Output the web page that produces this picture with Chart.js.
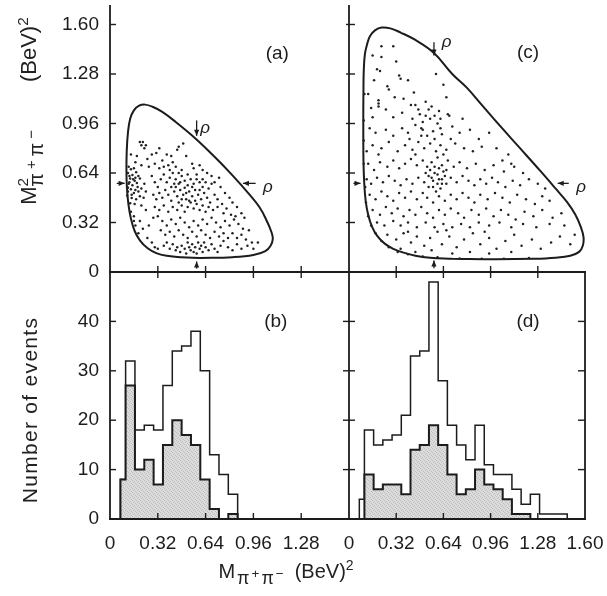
<!DOCTYPE html>
<html><head><meta charset="utf-8">
<script src="https://cdn.jsdelivr.net/npm/chart.js@4.4.1/dist/chart.umd.min.js"></script>
<style>
html,body{margin:0;padding:0;background:#fff;}
#wrap{position:relative;width:607px;height:596px;overflow:hidden;}
#c{position:absolute;left:0;top:0;}
.t{position:absolute;color:#222;white-space:nowrap;line-height:1;font-family:'Liberation Sans',Arial,sans-serif;}
.rot{transform:translate(-50%,-50%) rotate(-90deg);}
.ctr{transform:translate(-50%,-50%);}
.sp{position:relative;top:-0.55em;font-size:0.7em;}
.sb{position:relative;top:0.35em;font-size:0.9em;letter-spacing:2px;}
.sp2{position:relative;top:-0.45em;font-size:0.75em;}
</style></head><body>
<div id="wrap">
<canvas id="c" width="607" height="596"></canvas>
<div class="t rot" id="tyTop" style="left:29px;top:111px;font-size:22px;">M<span class="sp">2</span><span class="sb" style="margin-left:-0.45em;letter-spacing:4px">π<span class="sp2">+</span>π<span class="sp2">−</span></span><span style="display:inline-block;width:44px"></span>(BeV)<span class="sp">2</span></div>
<div class="t rot" id="tyBot" style="left:29px;top:410px;font-size:21px;letter-spacing:1.3px;">Number of events</div>
<div class="t ctr" id="tx" style="left:286px;top:571px;font-size:20px;">M<span class="sb" style="margin-left:2px">π<span class="sp2">+</span>π<span class="sp2">−</span></span><span style="display:inline-block;width:9px"></span>(BeV)<span class="sp">2</span></div>
</div>
<script>
// ---------------- data ----------------
const xTicksLeft = [0, 0.32, 0.64, 0.96, 1.28];
const xTicksRight = [0, 0.32, 0.64, 0.96, 1.28, 1.60];
const yTicksTop = [0, 0.32, 0.64, 0.96, 1.28, 1.60];
const yTicksBottom = [0, 10, 20, 30, 40];

// histogram bin edges, M^2 (BeV)^2
const binEdges = [0.07, 0.1045, 0.167, 0.2295, 0.292, 0.3545, 0.417, 0.4795, 0.542, 0.6045, 0.667, 0.7295, 0.792, 0.8545, 0.917, 0.9795, 1.042, 1.1045, 1.167, 1.2295, 1.292, 1.3545, 1.417, 1.4795];
// panel (b)
const histBAll    = [8, 32, 18, 19, 18, 27, 34, 35, 38, 30, 13, 9, 5, 0, 0, 0, 0, 0, 0, 0, 0, 0, 0];
const histBShaded = [8, 27, 10, 12, 7, 15, 20, 17, 15, 8, 2, 0, 1, 0, 0, 0, 0, 0, 0, 0, 0, 0, 0];
// panel (d)
const histDAll    = [4, 18, 15, 16, 17, 21, 33, 34, 48, 28, 19, 15, 12, 19, 11, 9, 9, 6, 3, 5, 1, 1, 1];
const histDShaded = [0, 9, 6, 7, 7, 5, 14, 15, 19, 15, 9, 5, 6, 10, 7, 6, 4, 1, 1, 0, 0, 0, 0];

// Dalitz boundary (a)
const boundaryA = [[0.60,0.09],[0.48,0.095],[0.38,0.105],[0.31,0.122],[0.25,0.155],[0.20,0.205],[0.165,0.265],[0.14,0.345],[0.123,0.44],[0.113,0.55],[0.11,0.66],[0.112,0.78],[0.12,0.90],[0.135,0.99],[0.16,1.045],[0.195,1.075],[0.235,1.082],[0.285,1.068],[0.35,1.035],[0.44,0.97],[0.57,0.865],[0.70,0.745],[0.82,0.625],[0.93,0.505],[1.00,0.42],[1.05,0.33],[1.08,0.26],[1.09,0.215],[1.075,0.17],[1.04,0.135],[0.96,0.11],[0.82,0.096],[0.60,0.09]];
// Dalitz boundary (c)
const boundaryC = [[0.70,0.085],[0.55,0.092],[0.45,0.105],[0.37,0.125],[0.30,0.15],[0.24,0.185],[0.19,0.235],[0.155,0.295],[0.13,0.37],[0.113,0.46],[0.103,0.58],[0.098,0.72],[0.097,0.88],[0.097,1.04],[0.098,1.18],[0.10,1.30],[0.108,1.41],[0.125,1.48],[0.142,1.524],[0.176,1.562],[0.222,1.58],[0.28,1.575],[0.35,1.548],[0.45,1.50],[0.576,1.416],[0.70,1.28],[0.80,1.19],[0.90,1.08],[1.00,0.97],[1.15,0.81],[1.30,0.65],[1.40,0.54],[1.48,0.45],[1.535,0.37],[1.572,0.29],[1.59,0.225],[1.585,0.17],[1.56,0.13],[1.50,0.105],[1.40,0.092],[1.25,0.085],[1.00,0.082],[0.70,0.085]];

// events, panel (a)
const scatterA = [
[0.20,0.84],[0.22,0.84],[0.21,0.82],[0.24,0.82],[0.23,0.80],
[0.33,0.80],[0.46,0.81],[0.49,0.83],[0.45,0.79],[0.31,0.77],[0.38,0.76],[0.41,0.75],[0.28,0.76],[0.14,0.76],[0.18,0.75],[0.25,0.73],[0.51,0.75],[0.35,0.72],[0.30,0.70],[0.42,0.71],[0.21,0.69],[0.26,0.68],[0.17,0.71],[0.39,0.69],[0.44,0.68],[0.55,0.70],[0.33,0.67],[0.48,0.66],[0.58,0.63],[0.62,0.66],
[0.125,0.68],[0.14,0.665],[0.16,0.67],[0.12,0.64],[0.15,0.627],[0.175,0.645],[0.19,0.62],[0.135,0.605],[0.165,0.59],[0.20,0.605],[0.125,0.57],[0.15,0.56],[0.18,0.575],[0.14,0.535],[0.17,0.53],[0.12,0.52],[0.16,0.51],[0.19,0.52],[0.115,0.495],[0.145,0.478],[0.175,0.47],[0.135,0.445],[0.165,0.44],[0.21,0.54],[0.23,0.57],[0.24,0.52],[0.225,0.48],[0.13,0.58],[0.155,0.60],[0.185,0.55],[0.12,0.545],[0.20,0.49],[0.145,0.50],[0.17,0.61],[0.13,0.62],[0.115,0.55],
[0.14,0.39],[0.16,0.36],[0.16,0.33],[0.17,0.30],[0.20,0.33],[0.22,0.28],[0.19,0.25],[0.25,0.22],[0.28,0.19],[0.30,0.16],[0.32,0.15],[0.26,0.30],[0.29,0.35],[0.24,0.40],[0.21,0.43],
[0.28,0.62],[0.30,0.58],[0.32,0.55],[0.34,0.60],[0.36,0.63],[0.38,0.58],[0.40,0.61],[0.42,0.64],[0.44,0.60],[0.46,0.57],[0.48,0.62],[0.50,0.59],[0.52,0.63],[0.54,0.60],[0.56,0.57],[0.58,0.60],[0.60,0.58],[0.62,0.55],[0.64,0.58],[0.66,0.54],[0.68,0.57],
[0.29,0.50],[0.31,0.47],[0.33,0.51],[0.35,0.48],[0.37,0.53],[0.39,0.50],[0.41,0.46],[0.43,0.52],[0.45,0.49],[0.47,0.53],[0.49,0.50],[0.51,0.47],[0.53,0.52],[0.55,0.49],[0.57,0.53],[0.59,0.50],[0.61,0.47],[0.63,0.51],[0.65,0.48],[0.67,0.45],[0.70,0.50],[0.72,0.47],
[0.30,0.42],[0.33,0.40],[0.36,0.43],[0.39,0.39],[0.42,0.42],[0.45,0.40],[0.48,0.43],[0.50,0.39],[0.52,0.42],[0.54,0.45],[0.56,0.41],[0.58,0.44],[0.60,0.40],[0.62,0.43],[0.64,0.39],[0.66,0.42],[0.69,0.40],[0.72,0.42],[0.75,0.44],[0.78,0.41],
[0.44,0.55],[0.46,0.45],[0.50,0.545],[0.52,0.56],[0.48,0.47],[0.55,0.55],[0.53,0.46],[0.57,0.46],[0.51,0.51],[0.47,0.58],[0.43,0.57],[0.41,0.55],[0.60,0.53],[0.62,0.60],[0.40,0.66],[0.36,0.68],[0.46,0.64],
[0.32,0.36],[0.35,0.33],[0.38,0.30],[0.41,0.34],[0.44,0.31],[0.47,0.35],[0.50,0.32],[0.53,0.29],[0.56,0.33],[0.59,0.30],[0.62,0.34],[0.65,0.31],[0.68,0.35],[0.71,0.32],[0.74,0.29],[0.77,0.33],[0.80,0.30],[0.83,0.34],[0.86,0.31],[0.89,0.28],
[0.34,0.27],[0.37,0.24],[0.40,0.26],[0.43,0.23],[0.46,0.27],[0.49,0.24],[0.52,0.22],[0.55,0.26],[0.58,0.23],[0.61,0.27],[0.64,0.24],[0.67,0.22],[0.70,0.26],[0.73,0.23],[0.76,0.25],[0.79,0.22],[0.82,0.25],[0.85,0.22],[0.88,0.24],[0.91,0.21],[0.93,0.27],[0.95,0.19],
[0.70,0.58],[0.74,0.55],[0.77,0.51],[0.80,0.48],[0.73,0.61],[0.82,0.45],[0.85,0.42],[0.88,0.38],[0.90,0.35],[0.76,0.38],[0.81,0.37],[0.84,0.36],
[0.36,0.17],[0.38,0.19],[0.40,0.15],[0.42,0.18],[0.44,0.14],[0.45,0.16],[0.47,0.13],[0.48,0.17],[0.50,0.15],[0.51,0.12],[0.52,0.19],[0.53,0.16],[0.54,0.14],[0.55,0.18],[0.56,0.13],[0.57,0.16],[0.58,0.12],[0.59,0.19],[0.60,0.15],[0.61,0.17],[0.62,0.13],[0.63,0.19],[0.64,0.16],[0.66,0.14],[0.68,0.18],[0.70,0.15],[0.72,0.13],[0.74,0.17],[0.76,0.20],[0.79,0.16],[0.82,0.14],[0.85,0.18],[0.88,0.15],[0.92,0.17],[0.96,0.15],[0.99,0.19],
[0.56,0.67],[0.60,0.69],[0.65,0.64],[0.68,0.62]
];

// events, panel (c)
const scatterC = [
[0.10,0.70],[0.10,0.85],[0.10,0.98],[0.105,1.15],[0.11,0.55],[0.115,0.45],[0.13,0.36],[0.15,0.30],[0.18,0.25],[0.22,0.20],[0.27,0.16],[0.33,0.13],[0.40,0.115],[0.50,0.10],[0.60,0.095],[0.75,0.088],[0.90,0.085],[1.05,0.085],[1.22,0.09],
[0.22,1.46],[0.30,1.46],[0.16,1.40],[0.32,1.36],[0.22,1.39],[0.19,1.31],[0.21,1.30],[0.17,1.24],[0.34,1.27],[0.35,1.25],[0.40,1.24],[0.59,1.28],[0.64,1.21],[0.20,1.11],[0.20,1.09],[0.20,1.07],[0.27,1.18],[0.31,1.13],[0.66,1.13],[0.15,1.06],[0.16,1.00],[0.42,1.08],[0.45,1.08],[0.52,1.10],[0.54,1.05],[0.48,1.02],[0.52,1.01],[0.55,0.99],[0.58,1.01],[0.60,0.96],[0.62,0.93],[0.67,1.02],[0.68,1.01],[0.77,0.99],[0.26,1.20],[0.13,1.15],[0.44,1.16],[0.37,1.12],
[0.47,1.05],[0.50,0.97],[0.56,1.07],[0.61,1.04],[0.49,0.93],[0.43,0.99],[0.62,0.99],[0.36,1.03],[0.30,1.00],[0.25,1.05],
[0.14,0.93],[0.18,0.90],[0.25,0.92],[0.30,0.88],[0.36,0.93],[0.40,0.90],[0.45,0.95],[0.50,0.92],[0.53,0.88],[0.57,0.91],[0.63,0.89],[0.70,0.94],[0.75,0.90],[0.82,0.92],[0.88,0.86],[0.95,0.90],[0.16,0.82],[0.22,0.80],[0.27,0.84],[0.33,0.78],[0.38,0.82],[0.43,0.79],[0.47,0.84],[0.51,0.80],[0.55,0.83],[0.59,0.78],[0.62,0.82],[0.66,0.79],[0.72,0.83],[0.78,0.80],[0.84,0.78],[0.90,0.81],[1.00,0.80],[1.08,0.76],[0.12,0.78],[0.20,0.76],[0.45,0.76],[0.58,0.86],[0.49,0.88],[0.41,0.86],[0.64,0.76],[0.69,0.86],
[0.13,0.70],[0.17,0.66],[0.21,0.71],[0.26,0.68],[0.30,0.72],[0.34,0.67],[0.38,0.70],[0.42,0.73],[0.46,0.69],[0.50,0.72],[0.53,0.68],[0.56,0.71],[0.60,0.74],[0.63,0.69],[0.67,0.72],[0.71,0.68],[0.75,0.71],[0.80,0.67],[0.86,0.70],[0.92,0.66],[0.98,0.69],[1.05,0.65],[1.12,0.68],[1.18,0.64],[1.04,0.72],[1.10,0.70],
[0.12,0.60],[0.15,0.57],[0.19,0.61],[0.23,0.58],[0.27,0.62],[0.31,0.59],[0.35,0.56],[0.39,0.60],[0.43,0.57],[0.47,0.61],[0.51,0.58],[0.54,0.62],[0.57,0.59],[0.60,0.63],[0.63,0.60],[0.66,0.57],[0.69,0.61],[0.73,0.58],[0.77,0.62],[0.81,0.59],[0.85,0.56],[0.89,0.60],[0.93,0.57],[0.97,0.61],[1.01,0.58],[1.06,0.55],[1.11,0.59],[1.16,0.56],[1.22,0.60],[1.28,0.57],[1.33,0.54],
[0.55,0.66],[0.58,0.64],[0.61,0.67],[0.64,0.65],[0.57,0.55],[0.60,0.57],[0.62,0.54],[0.59,0.52],[0.65,0.62],[0.52,0.64],[0.56,0.61],[0.61,0.60],[0.63,0.57],[0.58,0.68],[0.66,0.66],[0.54,0.55],
[0.14,0.50],[0.18,0.47],[0.22,0.52],[0.26,0.49],[0.30,0.46],[0.34,0.51],[0.38,0.48],[0.42,0.52],[0.46,0.47],[0.50,0.51],[0.53,0.48],[0.57,0.45],[0.61,0.49],[0.65,0.46],[0.69,0.50],[0.73,0.47],[0.77,0.51],[0.81,0.48],[0.85,0.45],[0.89,0.50],[0.94,0.47],[0.99,0.51],[1.04,0.48],[1.09,0.45],[1.14,0.50],[1.20,0.47],[1.26,0.44],[1.31,0.49],[1.36,0.46],
[0.16,0.40],[0.21,0.37],[0.25,0.42],[0.29,0.38],[0.33,0.41],[0.37,0.36],[0.41,0.40],[0.45,0.37],[0.49,0.42],[0.53,0.38],[0.57,0.35],[0.61,0.40],[0.65,0.37],[0.69,0.41],[0.74,0.38],[0.78,0.35],[0.83,0.40],[0.88,0.37],[0.93,0.41],[0.98,0.36],[1.03,0.40],[1.08,0.37],[1.13,0.34],[1.19,0.39],[1.25,0.36],[1.31,0.40],[1.38,0.35],[1.44,0.38],
[0.19,0.32],[0.24,0.30],[0.30,0.33],[0.35,0.30],[0.40,0.32],[0.46,0.29],[0.52,0.32],[0.58,0.29],[0.64,0.31],[0.70,0.29],[0.76,0.31],[0.82,0.29],[0.88,0.32],[0.95,0.30],[1.02,0.32],[1.10,0.29],[1.18,0.31],[1.27,0.29],[1.36,0.31],[1.46,0.30],
[0.26,0.24],[0.32,0.21],[0.37,0.25],[0.42,0.19],[0.46,0.23],[0.51,0.17],[0.55,0.22],[0.60,0.26],[0.63,0.18],[0.68,0.23],[0.73,0.16],[0.78,0.21],[0.84,0.25],[0.89,0.18],[0.95,0.22],[1.00,0.15],[1.06,0.20],[1.12,0.24],[1.17,0.17],[1.24,0.21],[1.30,0.15],[1.37,0.19],[1.43,0.23],[1.50,0.18],[1.53,0.24],
[0.35,0.15],[0.45,0.13],[0.56,0.14],[0.70,0.12],[0.82,0.13],[0.95,0.12],[1.10,0.13],[0.40,0.26],[0.66,0.27],[0.92,0.26]
];

// ---------------- build ----------------
const INK = '#1c1c1c';
const tickFont = {family: "'Liberation Sans', Arial, sans-serif", size: 19};
const fmt = v => (v === 0 ? '0' : (Number.isInteger(v) ? String(v) : v.toFixed(2)));
const toXY = arr => arr.map(p => ({x: p[0], y: p[1]}));

function stepData(vals) {
  let n = vals.length;
  while (n > 0 && vals[n - 1] === 0) n--;
  const pts = [{x: binEdges[0], y: 0}];
  for (let i = 0; i < n; i++) pts.push({x: binEdges[i], y: vals[i]});
  pts.push({x: binEdges[n], y: 0});
  return pts;
}

function makePattern() {
  const c = document.createElement('canvas');
  c.width = 4; c.height = 4;
  const g = c.getContext('2d');
  g.fillStyle = '#dcdcdc'; g.fillRect(0, 0, 4, 4);
  g.fillStyle = '#bdbdbd';
  [[0,0],[2,1],[1,2],[3,3]].forEach(([x, y]) => g.fillRect(x, y, 1, 1));
  return g.createPattern(c, 'repeat');
}
const shade = makePattern();

function xScale(ticksArr, weight, stackWeight) {
  return {
    type: 'linear', position: 'bottom', stack: 'xs', stackWeight, weight,
    min: 0, max: 1.6,
    grid: {display: false}, border: {display: false},
    afterBuildTicks: s => { s.ticks = ticksArr.map(v => ({value: v})); },
    ticks: {autoSkip: false, maxRotation: 0, minRotation: 0, padding: 5, font: tickFont, color: INK, callback: v => fmt(v)},
    afterFit: s => { s.height = 77; s.paddingLeft = 0; s.paddingRight = 0; }
  };
}
function yScale(ticksArr, weight, stackWeight, max) {
  return {
    type: 'linear', position: 'left', stack: 'ys', stackWeight, weight,
    min: 0, max,
    grid: {display: false}, border: {display: false},
    afterBuildTicks: s => { s.ticks = ticksArr.map(v => ({value: v})); },
    ticks: {autoSkip: false, padding: 3, font: tickFont, color: INK, callback: v => fmt(v)},
    afterFit: s => { s.width = 110; s.paddingTop = 0; s.paddingBottom = 0; }
  };
}

function line(ctx, x1, y1, x2, y2) { ctx.beginPath(); ctx.moveTo(x1, y1); ctx.lineTo(x2, y2); ctx.stroke(); }
function arrow(ctx, x1, y1, x2, y2) {
  line(ctx, x1, y1, x2, y2);
  const a = Math.atan2(y2 - y1, x2 - x1), h = 6, w = 2.6;
  ctx.beginPath(); ctx.moveTo(x2, y2);
  ctx.lineTo(x2 - h * Math.cos(a) + w * Math.sin(a), y2 - h * Math.sin(a) - w * Math.cos(a));
  ctx.lineTo(x2 - h * Math.cos(a) - w * Math.sin(a), y2 - h * Math.sin(a) + w * Math.cos(a));
  ctx.closePath(); ctx.fill();
}

const framePlugin = {
  id: 'frame',
  afterDatasetsDraw(chart) {
    const ctx = chart.ctx;
    const {xL, xR, yT, yB} = chart.scales;
    const L = xL.left, M = xR.left, R = xR.right, T = yT.top, Mid = yT.bottom, B = yB.bottom;
    ctx.save();
    ctx.strokeStyle = INK; ctx.fillStyle = INK; ctx.lineWidth = 1.8; ctx.lineCap = 'butt';
    line(ctx, L, T, L, B); line(ctx, M, T, M, B); line(ctx, R, Mid, R, B);
    line(ctx, L - 1, Mid, R + 1, Mid); line(ctx, L - 1, B, R + 1, B);
    ctx.lineWidth = 1.4;
    yT.ticks.forEach(t => { if (t.value === 0) return; const y = yT.getPixelForValue(t.value);
      line(ctx, L, y, L + 6, y); line(ctx, M - 3, y, M + 6, y); });
    yB.ticks.forEach(t => { if (t.value === 0) return; const y = yB.getPixelForValue(t.value);
      line(ctx, L, y, L + 6, y); line(ctx, M - 6, y, M + 6, y); line(ctx, R - 7, y, R, y); });
    [xL, xR].forEach(s => s.ticks.forEach(t => { if (t.value === 0 || t.value >= 1.6) return; const x = s.getPixelForValue(t.value);
      line(ctx, x, Mid - 6, x, Mid + 6); line(ctx, x, B - 6, x, B); }));

    // rho arrows
    ctx.lineWidth = 1.3;
    const P = (sx, sy, x, y) => [sx.getPixelForValue(x), sy.getPixelForValue(y)];
    const arr = (sx, sy, x1, y1, x2, y2) => { const a = P(sx, sy, x1, y1), b = P(sx, sy, x2, y2); arrow(ctx, a[0], a[1], b[0], b[1]); };
    arr(xL, yT, 0.58, 0.98, 0.58, 0.88);
    arr(xL, yT, 0.975, 0.573, 0.89, 0.573);
    arr(xL, yT, 0.045, 0.573, 0.098, 0.573);
    arr(xL, yT, 0.58, 0.022, 0.58, 0.068);
    arr(xR, yT, 0.576, 1.485, 0.576, 1.40);
    arr(xR, yT, 1.49, 0.573, 1.415, 0.573);
    arr(xR, yT, 0.03, 0.573, 0.078, 0.573);
    arr(xR, yT, 0.576, 0.025, 0.576, 0.075);

    ctx.textAlign = 'center'; ctx.textBaseline = 'middle';
    ctx.font = "italic 17px 'Liberation Sans', Arial, sans-serif";
    const txt = (s, sx, sy, x, y) => { const p = P(sx, sy, x, y); ctx.fillText(s, p[0], p[1]); };
    txt('ρ', xL, yT, 0.636, 0.93);
    txt('ρ', xL, yT, 1.057, 0.55);
    txt('ρ', xR, yT, 0.662, 1.485);
    txt('ρ', xR, yT, 1.573, 0.545);
    ctx.font = "19px 'Liberation Sans', Arial, sans-serif";
    txt('(a)', xL, yT, 1.12, 1.41);
    txt('(c)', xR, yT, 1.214, 1.414);
    txt('(b)', xL, yB, 1.11, 39.9);
    txt('(d)', xR, yB, 1.214, 39.9);
    ctx.restore();
  }
};

const histStyle = (data, xid, shaded) => ({
  type: 'line', data, xAxisID: xid, yAxisID: 'yB', stepped: true, tension: 0,
  pointRadius: 0, borderColor: INK, borderWidth: shaded ? 2 : 1.5,
  fill: shaded ? 'origin' : false, backgroundColor: shaded ? shade : 'transparent',
  order: shaded ? 1 : 2
});

new Chart(document.getElementById('c'), {
  type: 'line',
  data: {
    datasets: [
      {data: toXY(scatterA), xAxisID: 'xL', yAxisID: 'yT', showLine: false, pointRadius: 1.25, pointBackgroundColor: '#222', pointBorderWidth: 0, order: 0},
      {data: toXY(scatterC), xAxisID: 'xR', yAxisID: 'yT', showLine: false, pointRadius: 1.25, pointBackgroundColor: '#222', pointBorderWidth: 0, order: 0},
      {data: toXY(boundaryA), xAxisID: 'xL', yAxisID: 'yT', showLine: true, tension: 0.4, pointRadius: 0, borderColor: INK, borderWidth: 2, fill: false, order: 0},
      {data: toXY(boundaryC), xAxisID: 'xR', yAxisID: 'yT', showLine: true, tension: 0.4, pointRadius: 0, borderColor: INK, borderWidth: 2, fill: false, order: 0},
      histStyle(stepData(histBAll), 'xL', false),
      histStyle(stepData(histBShaded), 'xL', true),
      histStyle(stepData(histDAll), 'xR', false),
      histStyle(stepData(histDShaded), 'xR', true)
    ]
  },
  options: {
    responsive: false, devicePixelRatio: 1, animation: false, events: [],
    layout: {padding: {top: 5, right: 22, left: 0, bottom: 0}},
    plugins: {legend: {display: false}, tooltip: {enabled: false}, title: {display: false}},
    scales: {
      xL: xScale(xTicksLeft, 0, 239),
      xR: xScale(xTicksRight, 1, 236),
      yT: yScale(yTicksTop, 1, 267, 1.726),
      yB: yScale(yTicksBottom, 0, 247, 50)
    }
  },
  plugins: [framePlugin]
});
</script>
</body></html>
